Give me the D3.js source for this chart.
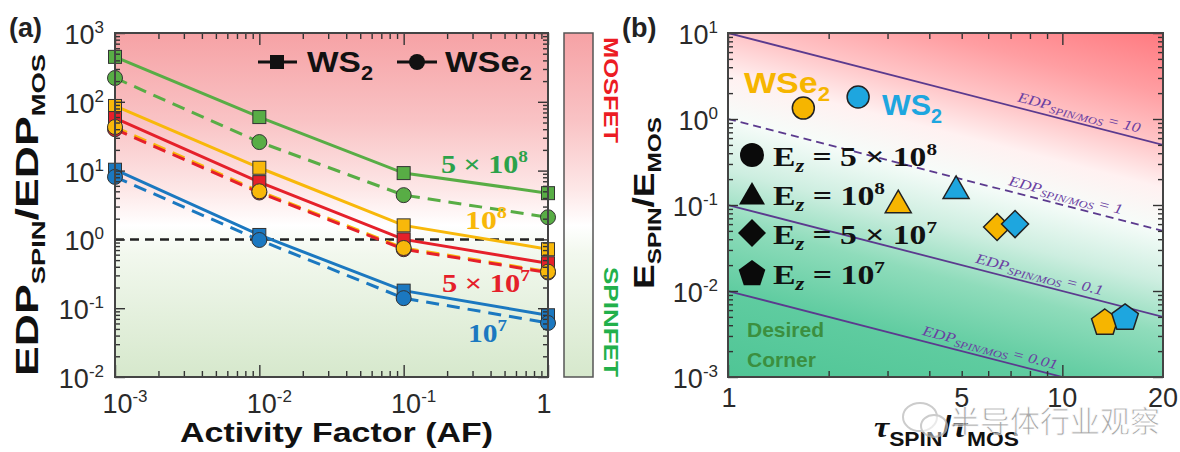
<!DOCTYPE html>
<html>
<head>
<meta charset="utf-8">
<script src="https://cdn.jsdelivr.net/npm/d3@7"></script>
<style>
  body { margin: 0; background: #fff; }
  svg { display: block; }
  text { font-family: "Liberation Sans", Arial, sans-serif; }
</style>
</head>
<body>
<svg id="chart" width="1180" height="452"></svg>
<script>
// ---- panel (a) data: EDP_SPIN / EDP_MOS vs activity factor ----
const activityFactor = [1e-3, 1e-2, 1e-1, 1]
const ws2_5e8 = [450, 60, 9.2, 4.7]
const wse2_5e8 = [222, 26, 4.4, 2.1]
const ws2_1e8 = [87, 11, 1.6, 0.72]
const wse2_1e8 = [43, 5.0, 0.75, 0.34]
const ws2_5e7 = [58, 6.8, 1.0, 0.45]
const wse2_5e7 = [40, 4.8, 0.72, 0.33]
const ws2_1e7 = [10.3, 1.16, 0.18, 0.079]
const wse2_1e7 = [8.1, 0.98, 0.14, 0.061]
const fieldColors = ['#58ad45', '#f8b80a', '#e5202a', '#1b78c0']
const fieldMantissa = ['5 × 10', '10', '5 × 10', '10']
const fieldExp = ['8', '8', '7', '7']
const yTicksA = [-2, -1, 0, 1, 2, 3]
const xTicksA = [-3, -2, -1]

// ---- panel (b) data: E_SPIN/E_MOS vs tau_SPIN/tau_MOS ----
const tauWs2 = [2.45, 4.81, 7.22, 15.4]
const energyWs2 = [1.80, 0.158, 0.060, 0.0050]
const tauWse2 = [1.68, 3.23, 6.38, 13.4]
const energyWse2 = [1.34, 0.108, 0.0555, 0.00436]
const ezShapes = ['circle', 'triangle', 'diamond', 'pentagon']
const edpContours = [10, 1, 0.1, 0.01]
const edpContourLabels = ['10', '1', '0.1', '0.01']
const yTicksB = [-3, -2, -1, 0, 1]
const xTicksB = [1, 5, 10, 20]

const svg = d3.select('#chart')
const defs = svg.append('defs')

const xA = d3.scaleLog().domain([1e-3, 1]).range([115, 548])
const yA = d3.scaleLog().domain([1e-2, 1e3]).range([377, 33])
const xB = d3.scaleLog().domain([1, 20]).range([728, 1163])
const yB = d3.scaleLog().domain([1e-3, 10]).range([377, 33])

function minors(lo, hi) {
  const out = []
  for (let k = Math.floor(Math.log10(lo)); k <= Math.ceil(Math.log10(hi)); k++) {
    for (let m = 2; m <= 9; m++) {
      const v = m * Math.pow(10, k)
      if (v > lo * 1.0001 && v < hi * 0.9999) out.push(v)
    }
  }
  return out
}
function majors(lo, hi) {
  return d3.range(Math.round(Math.log10(lo)), Math.round(Math.log10(hi)) + 1).map(e => Math.pow(10, e))
}

function tickSet(axisFn, scale, transform, values, size) {
  svg.append('g')
    .attr('transform', transform)
    .call(axisFn(scale).tickValues(values).tickSize(-size).tickFormat(''))
    .call(g => g.select('.domain').remove())
    .call(g => g.selectAll('line').attr('stroke', '#333').attr('stroke-width', 1.4))
}

function frameTicks(x, y) {
  const [x0, x1] = x.range(), [y1, y0] = y.range()
  const xd = x.domain(), yd = y.domain()
  const xMaj = majors(xd[0], xd[1]).filter(v => v >= xd[0] && v <= xd[1])
  const yMaj = majors(yd[0], yd[1])
  tickSet(d3.axisLeft, y, `translate(${x0},0)`, yMaj, 10)
  tickSet(d3.axisLeft, y, `translate(${x0},0)`, minors(yd[0], yd[1]), 5)
  tickSet(d3.axisRight, y, `translate(${x1},0)`, yMaj, 10)
  tickSet(d3.axisRight, y, `translate(${x1},0)`, minors(yd[0], yd[1]), 5)
  tickSet(d3.axisBottom, x, `translate(0,${y1})`, xMaj, 12)
  tickSet(d3.axisBottom, x, `translate(0,${y1})`, minors(xd[0], xd[1]), 6)
  tickSet(d3.axisTop, x, `translate(0,${y0})`, xMaj, 12)
  tickSet(d3.axisTop, x, `translate(0,${y0})`, minors(xd[0], xd[1]), 6)
  svg.append('rect')
    .attr('x', x0).attr('y', y0).attr('width', x1 - x0).attr('height', y1 - y0)
    .attr('fill', 'none').attr('stroke', '#444').attr('stroke-width', 2)
}

function powText(x, y, exp, anchor) {
  const t = svg.append('text').attr('x', x).attr('y', y)
    .attr('text-anchor', anchor).attr('fill', '#2a2a2a').style('font-size', '27px')
  t.append('tspan').text('10')
  t.append('tspan').attr('dy', -11).style('font-size', '17px').text(exp < 0 ? '-' + (-exp) : exp)
  return t
}

// ================= panel (a) =================
const gradA = defs.append('linearGradient').attr('id', 'gradA')
  .attr('x1', 0).attr('y1', 0).attr('x2', 0).attr('y2', 1)
;[[0, '#f6a2a5'], [0.25, '#f9c2c4'], [0.45, '#fde6e6'], [0.56, '#ffffff'],
  [0.64, '#f2f8ee'], [1, '#d6e8cc']].forEach(([o, c]) =>
  gradA.append('stop').attr('offset', o).attr('stop-color', c))

svg.append('rect').attr('x', 115).attr('y', 33).attr('width', 433).attr('height', 344)
  .attr('fill', 'url(#gradA)')

defs.append('clipPath').attr('id', 'clipA').append('rect')
  .attr('x', 115).attr('y', 33).attr('width', 433).attr('height', 344)

const plotA = svg.append('g').attr('clip-path', 'url(#clipA)')

// EDP ratio = 1 reference line
plotA.append('line')
  .attr('x1', xA(1e-3)).attr('x2', xA(1)).attr('y1', yA(1)).attr('y2', yA(1))
  .attr('stroke', '#222').attr('stroke-width', 2.5).attr('stroke-dasharray', '9,6')

const seriesA = [
  {ws2: ws2_5e8, wse2: wse2_5e8},
  {ws2: ws2_1e8, wse2: wse2_1e8},
  {ws2: ws2_5e7, wse2: wse2_5e7},
  {ws2: ws2_1e7, wse2: wse2_1e7}
]
const lineA = d3.line().x(d => xA(d[0])).y(d => yA(d[1]))

seriesA.forEach((s, i) => {
  plotA.append('path').datum(d3.zip(activityFactor, s.wse2)).attr('d', lineA)
    .attr('fill', 'none').attr('stroke', fieldColors[i]).attr('stroke-width', 3)
    .attr('stroke-dasharray', '13,8')
  plotA.append('path').datum(d3.zip(activityFactor, s.ws2)).attr('d', lineA)
    .attr('fill', 'none').attr('stroke', fieldColors[i]).attr('stroke-width', 3)
})

const markA = svg.append('g')
seriesA.forEach((s, i) => {
  markA.selectAll(null).data(d3.zip(activityFactor, s.ws2)).join('rect')
    .attr('x', d => xA(d[0]) - 6.5).attr('y', d => yA(d[1]) - 6.5)
    .attr('width', 13).attr('height', 13)
    .attr('fill', fieldColors[i]).attr('stroke', '#333').attr('stroke-width', 1)
})
;[0, 2, 1, 3].forEach(i => {
  markA.selectAll(null).data(d3.zip(activityFactor, seriesA[i].wse2)).join('circle')
    .attr('cx', d => xA(d[0])).attr('cy', d => yA(d[1])).attr('r', 7.5)
    .attr('fill', fieldColors[i]).attr('stroke', '#333').attr('stroke-width', 1)
})

frameTicks(xA, yA)

yTicksA.forEach(e => powText(104, yA(Math.pow(10, e)) + 11, e, 'end'))
xTicksA.forEach(e => powText(xA(Math.pow(10, e)) + 10, 413, e, 'middle'))
svg.append('text').attr('x', xA(1) - 4).attr('y', 413).attr('text-anchor', 'middle')
  .attr('fill', '#2a2a2a').style('font-size', '27px').text('1')

// legend (a)
const legA = svg.append('g')
legA.append('line').attr('x1', 258).attr('x2', 297).attr('y1', 62).attr('y2', 62)
  .attr('stroke', '#111').attr('stroke-width', 3)
legA.append('rect').attr('x', 270).attr('y', 55).attr('width', 14).attr('height', 14).attr('fill', '#111')
legA.append('line').attr('x1', 397).attr('x2', 437).attr('y1', 62).attr('y2', 62)
  .attr('stroke', '#111').attr('stroke-width', 3)
legA.append('circle').attr('cx', 417).attr('cy', 62).attr('r', 8).attr('fill', '#111')
function subText(parent, x, y, main, sub, size, fill, len) {
  const t = parent.append('text').attr('x', x).attr('y', y).attr('fill', fill)
    .style('font-size', size + 'px').style('font-weight', 'bold')
  if (len) t.attr('textLength', len).attr('lengthAdjust', 'spacingAndGlyphs')
  t.append('tspan').text(main)
  t.append('tspan').attr('dy', size * 0.25).style('font-size', (size * 0.65) + 'px').text(sub)
  return t
}
subText(legA, 307, 72, 'WS', '2', 30, '#111', 66)
subText(legA, 445, 72, 'WSe', '2', 30, '#111', 87)

// field annotations
const annX = [441, 465, 442, 468]
const annY = [173, 229, 292, 342]
const annLen = [87, 42, 88, 39]
fieldColors.forEach((c, i) => {
  const t = svg.append('text').attr('x', annX[i]).attr('y', annY[i])
    .attr('fill', i === 0 ? '#2ca24a' : c)
    .style('font-family', '"Liberation Serif", "DejaVu Serif", serif')
    .style('font-weight', 'bold').style('font-size', '25px')
    .attr('textLength', annLen[i]).attr('lengthAdjust', 'spacingAndGlyphs')
  t.append('tspan').text(fieldMantissa[i])
  t.append('tspan').attr('dy', -11).style('font-size', '16px').text(fieldExp[i])
})

// titles (a)
svg.append('text').attr('x', 9).attr('y', 37).style('font-size', '27px').style('font-weight', 'bold')
  .attr('fill', '#222').text('(a)')
svg.append('text').attr('x', 180).attr('y', 442).style('font-size', '28px').style('font-weight', 'bold')
  .attr('fill', '#111').attr('textLength', 313).attr('lengthAdjust', 'spacingAndGlyphs')
  .text('Activity Factor (AF)')
const ytA = svg.append('text').attr('transform', 'translate(38,376) rotate(-90)')
  .style('font-size', '31px').style('font-weight', 'bold').attr('fill', '#111')
  .attr('textLength', 322).attr('lengthAdjust', 'spacingAndGlyphs')
ytA.append('tspan').text('EDP')
ytA.append('tspan').attr('dy', 7).style('font-size', '19px').text('SPIN')
ytA.append('tspan').attr('dy', -7).text('/EDP')
ytA.append('tspan').attr('dy', 7).style('font-size', '19px').text('MOS')

// colour bar
svg.append('rect').attr('x', 564).attr('y', 33).attr('width', 29).attr('height', 344)
  .attr('fill', 'url(#gradA)').attr('stroke', '#555').attr('stroke-width', 1.5)
svg.append('text').attr('transform', 'translate(604,37) rotate(90)')
  .style('font-size', '21px').style('font-weight', 'bold').attr('fill', '#ec1c24')
  .attr('textLength', 106).attr('lengthAdjust', 'spacingAndGlyphs').text('MOSFET')
svg.append('text').attr('transform', 'translate(604,267) rotate(90)')
  .style('font-size', '21px').style('font-weight', 'bold').attr('fill', '#22b04b')
  .attr('textLength', 110).attr('lengthAdjust', 'spacingAndGlyphs').text('SPINFET')

// ================= panel (b) =================
const px = xB(10) - xB(1), py = yB(1) - yB(10)
const gx = 1 / px, gy = -1 / py, gm = Math.hypot(gx, gy)
const ux = gx / gm, uy = gy / gm
const lMin = -3, lMax = 2.3
const start = [xB(1), yB(1e-3)]
const dist = (lMax - lMin) / gm
const gradB = defs.append('linearGradient').attr('id', 'gradB')
  .attr('gradientUnits', 'userSpaceOnUse')
  .attr('x1', start[0]).attr('y1', start[1])
  .attr('x2', start[0] + ux * dist).attr('y2', start[1] + uy * dist)
;[[-3, '#4fc595'], [-2, '#5fcca0'], [-1.2, '#8fdcbb'], [-0.6, '#cdeee0'], [0, '#f6fcf9'],
  [0.5, '#fff1f1'], [1.0, '#ffc6c8'], [1.6, '#ff9ea2'], [2.3, '#ff7a80']].forEach(([l, c]) =>
  gradB.append('stop').attr('offset', (l - lMin) / (lMax - lMin)).attr('stop-color', c))

svg.append('rect').attr('x', 728).attr('y', 33).attr('width', 435).attr('height', 344)
  .attr('fill', 'url(#gradB)')
defs.append('clipPath').attr('id', 'clipB').append('rect')
  .attr('x', 728).attr('y', 33).attr('width', 435).attr('height', 344)
const plotB = svg.append('g').attr('clip-path', 'url(#clipB)')

const angle = Math.atan2(yB(1) - yB(10), xB(10) - xB(1)) * 180 / Math.PI
const labelTau = [7.32, 6.88, 5.48, 3.8]
const labelLen = [126, 117, 131, 139]
edpContours.forEach((edp, i) => {
  plotB.append('line')
    .attr('x1', xB(1)).attr('y1', yB(edp / 1))
    .attr('x2', xB(20)).attr('y2', yB(edp / 20))
    .attr('stroke', '#5b3a8e').attr('stroke-width', 1.8)
    .attr('stroke-dasharray', edp === 1 ? '8,5' : null)
  const lx = xB(labelTau[i]), ly = yB(edp / labelTau[i]) - 6
  const t = svg.append('text').attr('transform', `translate(${lx},${ly}) rotate(${angle})`)
    .attr('fill', '#6a3fa2').style('font-family', '"Liberation Serif", serif')
    .style('font-style', 'italic').style('font-size', '14px')
    .attr('textLength', labelLen[i]).attr('lengthAdjust', 'spacingAndGlyphs')
  t.append('tspan').text('EDP')
  t.append('tspan').attr('dy', 3).style('font-size', '10px').text('SPIN/MOS')
  t.append('tspan').attr('dy', -3).text(' = ' + edpContourLabels[i])
})

function shapePath(type, r) {
  if (type === 'circle') return d3.symbol(d3.symbolCircle, Math.PI * r * r)()
  const n = {triangle: 3, diamond: 4, pentagon: 5}[type]
  const pts = d3.range(n).map(k => {
    const a = -Math.PI / 2 + k * 2 * Math.PI / n
    return [r * Math.cos(a), r * Math.sin(a)]
  })
  return 'M' + pts.join('L') + 'Z'
}
const shapeR = {circle: 11, triangle: 15, diamond: 13.5, pentagon: 14}
const shapeDy = {circle: 0, triangle: 3, diamond: 0, pentagon: 1}

function drawPoints(tau, energy, color) {
  plotB.selectAll(null).data(d3.zip(tau, energy, ezShapes)).join('path')
    .attr('transform', d => `translate(${xB(d[0])},${yB(d[1]) + shapeDy[d[2]]})`)
    .attr('d', d => shapePath(d[2], shapeR[d[2]]))
    .attr('fill', color).attr('stroke', '#222').attr('stroke-width', 1.5)
}
drawPoints(tauWse2, energyWse2, '#f6b500')
drawPoints(tauWs2, energyWs2, '#1ea6df')

frameTicks(xB, yB)
yTicksB.forEach(e => powText(718, yB(Math.pow(10, e)) + 11, e, 'end'))
xTicksB.forEach(v => {
  svg.append('text').attr('x', xB(v) + (v === 1 ? 1 : 0)).attr('y', 407).attr('text-anchor', 'middle')
    .attr('fill', '#2a2a2a').style('font-size', '27px').text(v)
})

// legend (b)
const ezMant = ['5 × 10', '10', '5 × 10', '10']
const ezExp = ['8', '8', '7', '7']
const ezLen = [164, 112, 164, 112]
const legRowY = [166, 205, 244, 284]
const legShapeR = {circle: 12, triangle: 15, diamond: 14, pentagon: 14}
ezShapes.forEach((s, i) => {
  svg.append('path')
    .attr('transform', `translate(752,${legRowY[i] - 11 + shapeDy[s]})`)
    .attr('d', shapePath(s, legShapeR[s])).attr('fill', '#0a0a0a')
  const t = svg.append('text').attr('x', 773).attr('y', legRowY[i]).attr('fill', '#111')
    .style('font-family', '"Liberation Serif", "DejaVu Serif", serif')
    .style('font-weight', 'bold').style('font-size', '27px')
    .attr('textLength', ezLen[i]).attr('lengthAdjust', 'spacingAndGlyphs')
  t.append('tspan').text('E')
  t.append('tspan').attr('dy', 6).style('font-size', '18px').style('font-style', 'italic').text('z')
  t.append('tspan').attr('dy', -6).text(' = ' + ezMant[i])
  t.append('tspan').attr('dy', -11).style('font-size', '17px').text(ezExp[i])
})

subText(svg, 744, 93, 'WSe', '2', 30, '#f6b500', 86)
subText(svg, 882, 115, 'WS', '2', 30, '#1ea6df', 60)

svg.append('text').attr('x', 747).attr('y', 337).attr('fill', '#3b8f3f')
  .style('font-size', '21px').style('font-weight', 'bold').text('Desired')
svg.append('text').attr('x', 747).attr('y', 367).attr('fill', '#3b8f3f')
  .style('font-size', '21px').style('font-weight', 'bold').text('Corner')

// titles (b)
svg.append('text').attr('x', 622).attr('y', 37).style('font-size', '27px').style('font-weight', 'bold')
  .attr('fill', '#222').text('(b)')
const ytB = svg.append('text').attr('transform', 'translate(654,289) rotate(-90)')
  .style('font-size', '29px').style('font-weight', 'bold').attr('fill', '#111')
  .attr('textLength', 172).attr('lengthAdjust', 'spacingAndGlyphs')
ytB.append('tspan').text('E')
ytB.append('tspan').attr('dy', 7).style('font-size', '19px').text('SPIN')
ytB.append('tspan').attr('dy', -7).text('/E')
ytB.append('tspan').attr('dy', 7).style('font-size', '19px').text('MOS')

const xtB = svg.append('text').attr('x', 874).attr('y', 437).attr('fill', '#111')
  .style('font-weight', 'bold').style('font-size', '30px')
  .attr('textLength', 145).attr('lengthAdjust', 'spacingAndGlyphs')
xtB.append('tspan').style('font-family', '"Liberation Serif", serif').style('font-style', 'italic').text('τ')
xtB.append('tspan').attr('dy', 9).style('font-size', '20px').text('SPIN')
xtB.append('tspan').attr('dy', -9).text('/')
xtB.append('tspan').style('font-family', '"Liberation Serif", serif').style('font-style', 'italic').text('τ')
xtB.append('tspan').attr('dy', 9).style('font-size', '20px').text('MOS')

// watermark
const wm = svg.append('g').attr('opacity', 0.75)
wm.append('ellipse').attr('cx', 920).attr('cy', 417).attr('rx', 17).attr('ry', 14)
  .attr('fill', 'none').attr('stroke', '#bbb').attr('stroke-width', 2)
wm.append('ellipse').attr('cx', 934).attr('cy', 426).attr('rx', 13).attr('ry', 11)
  .attr('fill', 'rgba(255,255,255,0.6)').attr('stroke', '#bbb').attr('stroke-width', 2)
wm.append('text').attr('x', 950).attr('y', 432).attr('fill', '#8c8c8c')
  .attr('stroke', '#fff').attr('stroke-width', 0.8)
  .style('font-family', '"Noto Sans CJK SC", sans-serif').style('font-size', '30px')
  .text('半导体行业观察')
</script>
</body>
</html>
